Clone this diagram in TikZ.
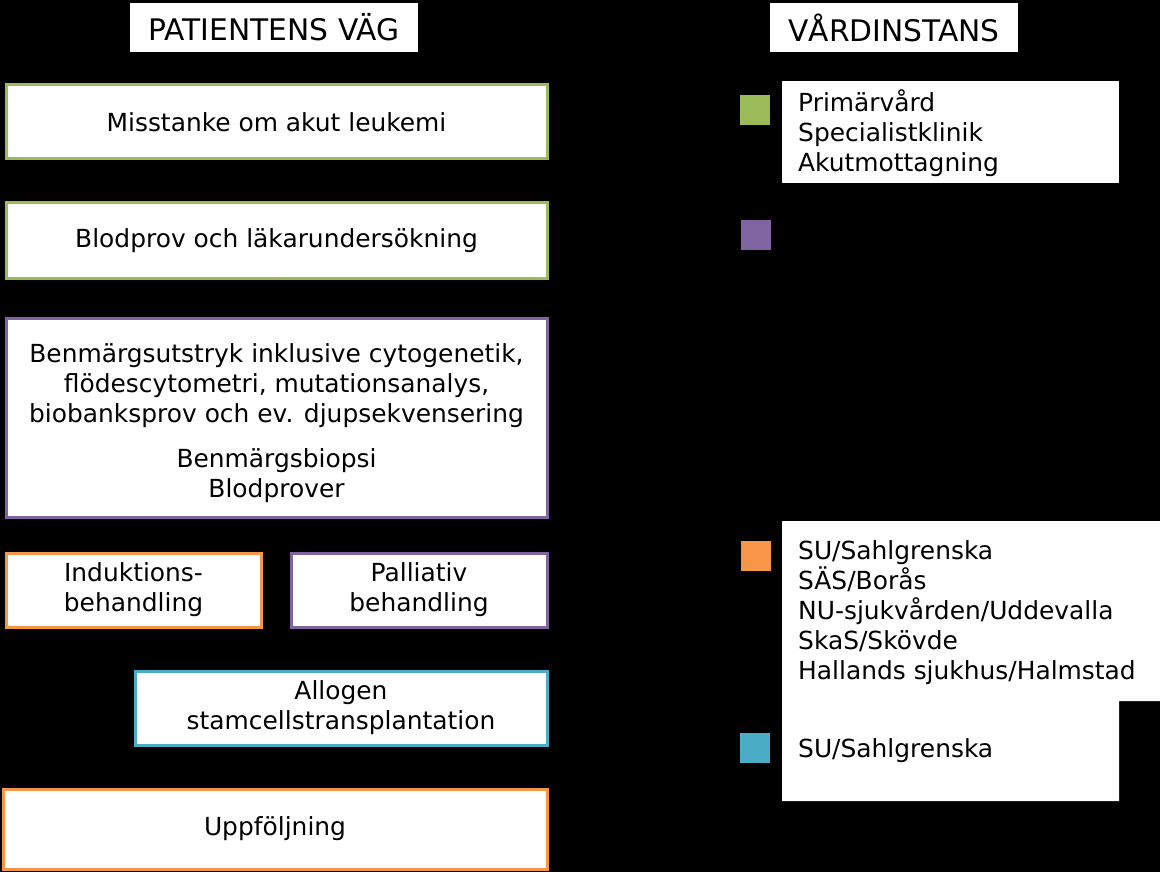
\documentclass[tikz,border=0pt]{standalone}
\usepackage{fontspec}
\setmainfont{DejaVu Sans}
\usepackage{tikz}
\usetikzlibrary{calc}
\definecolor{vgreen}{HTML}{9BBB59}
\definecolor{vpurple}{HTML}{8064A2}
\definecolor{vorange}{HTML}{F79646}
\definecolor{vblue}{HTML}{4BACC6}
\tikzset{
  flowbox/.style={draw=#1, fill=white, line width=3pt, inner sep=0pt, align=center,
    font=\fontsize{24.9}{30}\selectfont},
  titlebox/.style={fill=white, inner sep=0pt, minimum height=49pt, font=\fontsize{29.7}{34}\selectfont},
  legsq/.style={fill=#1, minimum size=30pt, inner sep=0pt},
  legtext/.style={inner xsep=0pt, anchor=west, align=left, font=\fontsize{24.9}{30}\selectfont},
  link/.style={black, line width=1pt}
}
\begin{document}
\begin{tikzpicture}[x=1pt,y=-1pt]
        \fill[black] (0, 0) rectangle (1160, 872);
        \useasboundingbox (0, 0) rectangle (1160, 872);
        % titles
        \node[titlebox, minimum width=288pt] (tpat) at (274, 27.5) {PATIENTENS VÄG};
        \node[titlebox, minimum width=248pt] (tvard) at (894, 27.5) {VÅRDINSTANS};
        % patient path
        \node[flowbox=vgreen, minimum width=541pt, minimum height=74pt] (b1) at (276.5, 122) {Misstanke om akut leukemi};
        \node[flowbox=vgreen, minimum width=541pt, minimum height=75pt] (b2) at (276.5, 240.5) {Blodprov och läkarundersökning};
        \node[flowbox=vpurple, minimum width=541pt, minimum height=199pt] (b3) at (276.5, 417.5)
          {\rule{0pt}{31pt}Benmärgsutstryk inklusive cytogenetik,\\flödescytometri, mutationsanalys,\\biobanksprov och ev. djupsekvensering\\[15pt]Benmärgsbiopsi\\Blodprover};
        \node[flowbox=vorange, minimum width=255pt, minimum height=74pt] (b4) at (133.5, 590) {Induktions-\\behandling};
        \node[flowbox=vpurple, minimum width=256pt, minimum height=74pt] (b5) at (419, 590) {Palliativ\\behandling};
        \node[flowbox=vblue, minimum width=412pt, minimum height=74pt] (b6) at (341, 708) {Allogen\\stamcellstransplantation};
        \node[flowbox=vorange, minimum width=544pt, minimum height=80pt] (b7) at (275, 829) {Uppföljning};
        % links
        \draw[link] (b1) -- (b2);
        \draw[link] (b2) -- (b3);
        \draw[link] (b4.north |- b3.south) -- (b4.north);
        \draw[link] (b5.north |- b3.south) -- (b5.north);
        \draw[link] ([xshift=-48pt]b4.south) -- ([xshift=-48pt]b4.south |- b7.north);
        \draw[link] ([xshift=3pt]b6.south) -- ([xshift=3pt]b6.south |- b7.north);
        % care levels
        \node[fill=white, minimum width=337pt, minimum height=102pt, inner sep=0pt] (lgreen) at (950.5, 132) {};
        \fill[white] (782, 521) rectangle (1160, 701) (782, 700) rectangle (1119, 801);
        \node[legsq=vgreen] (sqgreen) at (755, 110.5) {};
        \node[legsq=vpurple] (sqpurple) at (755.5, 235) {};
        \node[legsq=vorange] (sqorange) at (756, 556) {};
        \node[legsq=vblue] (sqblue) at (755, 747.5) {};
        \node[legtext] (tgreen) at (798, 133) {Primärvård\\Specialistklinik\\Akutmottagning};
        \node[legtext] (torange) at (798, 613) {SU/Sahlgrenska\\SÄS/Borås\\NU-sjukvården/Uddevalla\\SkaS/Skövde\\Hallands sjukhus/Halmstad};
        \node[legtext] (tblue) at (798, 751) {SU/Sahlgrenska};
    \end{tikzpicture}
\end{document}
